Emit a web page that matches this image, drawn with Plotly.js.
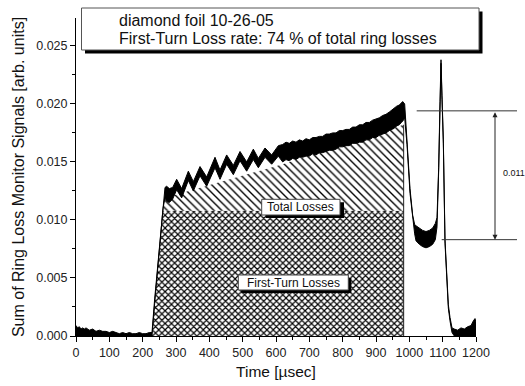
<!DOCTYPE html>
<html>
<head>
<meta charset="utf-8">
<script src="https://cdn.plot.ly/plotly-3.0.1.min.js"></script>
<style>
  html, body { margin: 0; padding: 0; background: #fff; }
  #chart { width: 525px; height: 386px; }
</style>
</head>
<body>
<div id="chart"></div>
<script>
// ---------- data ----------
// time axis (µs) of the ring-loss signal
const t = [0,5,10,15,20,25,30,40,50,60,70,80,90,100,110,120,130,140,150,160,170,180,190,200,210,220,228,
  236,247,255,261,267,
  272,280,290,302,317,337,352,372,392,417,432,452,472,492,512,532,547,567,587,607,
  620,630,640,650,660,670,680,690,700,710,720,730,740,750,760,770,780,790,800,810,820,830,840,850,860,870,880,890,900,910,920,930,940,948,955,962,970,976,980,986,
  993,1002,1010,1016,1020,1030,1040,1050,1060,1070,1078,1083,1088,1092,1095,1098,1102,1107,1112,1117,1122,1128,
  1135,1145,1155,1165,1175,1185,1192,1197,1200];
// lower edge of the noisy signal band
const sigLo = [0,0,0,0,0,0,0,0,0,0,0,0,0,0,0,0,0,0,0,0,0,0,0,0,0,0,0,
  0.0028,0.0064,0.0091,0.0110,0.0119,
  0.0116,0.0115,0.0118,0.0126,0.0119,0.0134,0.0125,0.0138,0.0129,0.0145,0.0135,0.0148,0.0139,0.0151,0.0142,0.0152,0.0145,0.0154,0.0148,0.0155,
  0.0150,0.0152,0.0151,0.0153,0.0152,0.0154,0.0154,0.0155,0.0155,0.0157,0.0156,0.0158,0.0158,0.0159,0.0160,0.0160,0.0161,0.0163,0.0163,0.0164,0.0164,0.0166,0.0166,0.0167,0.0167,0.0169,0.0169,0.0171,0.0171,0.0173,0.0174,0.0175,0.0177,0.0178,0.0179,0.0181,0.0182,0.0184,0.0185,0.0188,
  0.0165,0.0123,0.0100,0.0088,0.0082,0.0079,0.0077,0.0076,0.0077,0.0079,0.0083,0.0094,0.0142,0.0199,0.0235,0.0204,0.0166,0.0080,0.0045,0.0024,0.0013,0.0003,
  0,0,0,0,0,0,0,0,0];
// upper edge of the noisy signal band
const sigHi = [0.0009,0.0007,0.0008,0.0006,0.0007,0.0006,0.0007,0.0005,0.0006,0.0004,0.0005,0.0004,0.0004,0.0003,0.0004,0.0003,0.0002,0.0003,0.0002,0.0003,0.0002,0.0002,0.0003,0.0002,0.0002,0.0003,0.0003,
  0.0032,0.0068,0.0095,0.0115,0.0128,
  0.0129,0.0127,0.0128,0.0135,0.0127,0.0142,0.0133,0.0146,0.0137,0.0154,0.0143,0.0156,0.0147,0.0159,0.0150,0.0161,0.0153,0.0162,0.0156,0.0164,
  0.0165,0.0167,0.0166,0.0168,0.0167,0.0169,0.0168,0.0170,0.0169,0.0171,0.0171,0.0172,0.0172,0.0174,0.0174,0.0175,0.0175,0.0177,0.0177,0.0178,0.0178,0.0180,0.0180,0.0182,0.0182,0.0184,0.0184,0.0186,0.0187,0.0188,0.0190,0.0191,0.0193,0.0195,0.0196,0.0198,0.0199,0.0201,0.0202,0.0200,
  0.0169,0.0127,0.0104,0.0096,0.0095,0.0093,0.0091,0.0090,0.0091,0.0093,0.0097,0.0102,0.0145,0.0202,0.0238,0.0207,0.0169,0.0083,0.0048,0.0027,0.0016,0.0007,
  0.0006,0.0005,0.0007,0.0006,0.0008,0.0009,0.0013,0.0015,0.0012];

// First-Turn Losses region (cross-hatched)
const firstTurnX = [228, 260, 983, 983];
const firstTurnY = [0, 0.0108, 0.0108, 0];
// Total Losses region (diagonal hatched)
const totalX = [260, 265, 620, 983, 983];
const totalY = [0.0108, 0.0119, 0.0148, 0.0182, 0.0108];
// right edge of the hatched regions
const edgeX = [983, 983];
const edgeY = [0, 0.0182];

// peak / valley levels of the difference bracket
const levels = [0.0194, 0.0083];
const diffLabel = '0.011';

const xTicks = [0,100,200,300,400,500,600,700,800,900,1000,1100,1200];
const yTicks = [0.000,0.005,0.010,0.015,0.020,0.025];
const xRange = [0, 1200];
const yRange = [0, 0.0274];

const infoLines = ['diamond foil 10-26-05', 'First-Turn Loss rate: 74 % of total ring losses'];
const regionLabels = ['Total Losses', 'First-Turn Losses'];

// ---------- layout helpers (pixel -> paper) ----------
const W = 525, H = 386;
const M = {l: 76, r: 49, t: 18, b: 50};
const PW = W - M.l - M.r, PH = H - M.t - M.b;
const xp = px => (px - M.l) / PW;
const yp = py => (H - M.b - py) / PH;
const yv = v => (v - yRange[0]) / (yRange[1] - yRange[0]);   // data y -> paper

const FONT = 'Arial, "Liberation Sans", Helvetica, sans-serif';
const INK = '#111';

const traces = [
  {
    x: firstTurnX, y: firstTurnY, type: 'scatter', mode: 'lines',
    fill: 'toself', fillcolor: '#fff',
    fillpattern: {shape: 'x', size: 4.5, solidity: 0.45, fgcolor: '#000', bgcolor: '#fff'},
    line: {width: 0, color: 'rgba(0,0,0,0)'}, hoverinfo: 'skip'
  },
  {
    x: totalX, y: totalY, type: 'scatter', mode: 'lines',
    fill: 'toself', fillcolor: '#fff',
    fillpattern: {shape: '\\', size: 5.5, solidity: 0.25, fgcolor: '#000', bgcolor: '#fff'},
    line: {width: 0, color: 'rgba(0,0,0,0)'}, hoverinfo: 'skip'
  },
  {
    x: edgeX, y: edgeY, type: 'scatter', mode: 'lines',
    line: {width: 1, color: '#222'}, hoverinfo: 'skip'
  },
  {
    x: t, y: sigLo, type: 'scatter', mode: 'lines',
    line: {width: 1, color: '#000'}, hoverinfo: 'skip'
  },
  {
    x: t, y: sigHi, type: 'scatter', mode: 'lines',
    fill: 'tonexty', fillcolor: '#000',
    line: {width: 1, color: '#000'}, hoverinfo: 'skip'
  }
];

function boxShapes(x0, x1, y0, y1, sx, sy, edge) {
  return [
    {type: 'rect', xref: 'paper', yref: 'paper', x0: xp(x0 + sx), x1: xp(x1 + sx), y0: yp(y1 + sy), y1: yp(y0 + sy),
     fillcolor: '#000', line: {width: 0}, layer: 'above'},
    {type: 'rect', xref: 'paper', yref: 'paper', x0: xp(x0), x1: xp(x1), y0: yp(y1), y1: yp(y0),
     fillcolor: '#fff', line: {width: 1, color: edge}, layer: 'above'}
  ];
}

const shapes = [].concat(
  boxShapes(81.5, 479, 8, 50, 3.5, 3.5, '#555'),
  boxShapes(261.7, 340, 199.3, 215, 4, 3, '#444'),
  boxShapes(238.3, 348.3, 275, 290, 3, 3, '#444'),
  [
    {type: 'line', xref: 'paper', yref: 'paper', x0: xp(416.7), x1: xp(517), y0: yv(levels[0]), y1: yv(levels[0]),
     line: {width: 1, color: '#333'}},
    {type: 'line', xref: 'paper', yref: 'paper', x0: xp(441.7), x1: xp(517), y0: yv(levels[1]), y1: yv(levels[1]),
     line: {width: 1, color: '#333'}}
  ]
);

function label(text, cx, cy, size, anchor) {
  return {xref: 'paper', yref: 'paper', x: xp(cx), y: yp(cy), xanchor: anchor || 'center', yanchor: 'middle',
    showarrow: false, text: text, font: {family: FONT, size: size, color: INK}};
}

const annotations = [
  label(regionLabels[0], 300.8, 207.4, 12),
  label(regionLabels[1], 293.3, 282.7, 12),
  label(infoLines[0], 116.7, 20, 16, 'left'),
  label(infoLines[1], 116.7, 38.5, 16, 'left'),
  // double arrow of the bracket
  {xref: 'paper', yref: 'paper', x: xp(495), y: yv(levels[1]), axref: 'pixel', ayref: 'pixel',
   ax: 0, ay: -(yv(levels[0]) - yv(levels[1])) * PH, text: '', showarrow: true,
   arrowhead: 2, startarrowhead: 2, arrowside: 'end+start', arrowsize: 1, startarrowsize: 1,
   arrowwidth: 1, arrowcolor: '#222', standoff: 0, startstandoff: 0},
  label(diffLabel, 513.5, 173, 9)
];

const axisCommon = {
  showline: true, linecolor: '#000', linewidth: 1, mirror: false,
  ticks: 'outside', ticklen: 5, tickwidth: 1, tickcolor: '#000',
  showgrid: false, zeroline: false, fixedrange: true,
  tickfont: {family: FONT, size: 12.5, color: '#222'}
};

const layout = {
  width: W, height: H,
  margin: M,
  paper_bgcolor: '#fff', plot_bgcolor: '#fff',
  showlegend: false,
  xaxis: Object.assign({}, axisCommon, {
    range: xRange, tickmode: 'array', tickvals: xTicks, ticktext: xTicks.map(String),
    minor: {ticks: 'outside', dtick: 50, tick0: 0, ticklen: 3, tickcolor: '#000', showgrid: false},
    title: {text: 'Time [µsec]', font: {family: FONT, size: 15.5, color: INK}, standoff: 7}
  }),
  yaxis: Object.assign({}, axisCommon, {
    range: yRange, tickmode: 'array', tickvals: yTicks, ticktext: yTicks.map(v => v.toFixed(3)),
    minor: {ticks: 'outside', dtick: 0.0025, tick0: 0, ticklen: 3, tickcolor: '#000', showgrid: false},
    title: {text: 'Sum of Ring Loss Monitor Signals [arb. units]', font: {family: FONT, size: 16, color: INK}, standoff: 7}
  }),
  shapes: shapes,
  annotations: annotations
};

Plotly.newPlot('chart', traces, layout, {displayModeBar: false, staticPlot: true});
</script>
</body>
</html>
